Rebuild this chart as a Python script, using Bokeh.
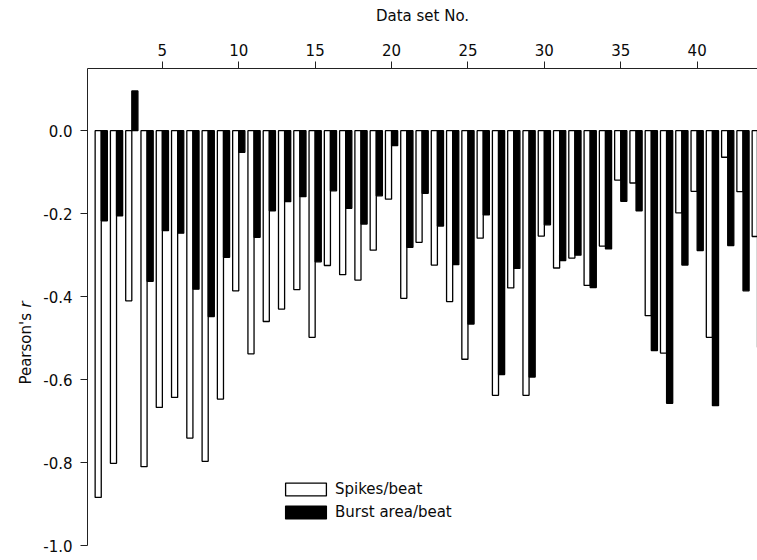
import math

from bokeh.core.properties import value
from bokeh.embed import file_html
from bokeh.layouts import row
from bokeh.models import (ColumnDataSource, FixedTicker, Legend, LegendItem,
                          PrintfTickFormatter, Range1d)
from bokeh.plotting import figure
from bokeh.resources import INLINE

# Data set numbers and Pearson's r for each measure
data_set = list(range(1, 45))
spikes_per_beat = [
    -0.884, -0.802, -0.410, -0.810, -0.667, -0.643, -0.741, -0.797, -0.647, -0.386,
    -0.538, -0.460, -0.430, -0.383, -0.498, -0.325, -0.347, -0.360, -0.288, -0.165,
    -0.404, -0.269, -0.324, -0.412, -0.551, -0.259, -0.638, -0.379, -0.638, -0.254,
    -0.331, -0.307, -0.373, -0.278, -0.119, -0.126, -0.446, -0.536, -0.198, -0.146,
    -0.498, -0.064, -0.147, -0.255,
]
burst_area_per_beat = [
    -0.217, -0.205, 0.096, -0.363, -0.241, -0.247, -0.382, -0.448, -0.305, -0.052,
    -0.257, -0.193, -0.171, -0.159, -0.316, -0.145, -0.187, -0.225, -0.157, -0.036,
    -0.281, -0.151, -0.230, -0.323, -0.466, -0.203, -0.588, -0.332, -0.594, -0.227,
    -0.313, -0.300, -0.378, -0.285, -0.170, -0.193, -0.530, -0.657, -0.324, -0.289,
    -0.663, -0.277, -0.386, -0.522,
]
x_ticks = [5, 10, 15, 20, 25, 30, 35, 40]
y_ticks = [-1.0, -0.8, -0.6, -0.4, -0.2, 0.0]

FONT = "DejaVu Sans"
TEXT_COLOR = "#0a0a0a"
BAR_W = 0.4
TOP, BOTTOM = 68, 15

y_range = Range1d(-1.0, 0.15)

source = ColumnDataSource(dict(
    spikes_x=[d - BAR_W / 2 for d in data_set],
    burst_x=[d + BAR_W / 2 for d in data_set],
    spikes=spikes_per_beat,
    burst=burst_area_per_beat,
))

# narrow strip holding the rotated y-axis title
title_fig = figure(
    width=40, height=560, output_backend="svg", toolbar_location=None,
    x_axis_location=None, y_axis_location=None,
    x_range=Range1d(0, 40), y_range=y_range,
    min_border_left=0, min_border_right=0,
    min_border_top=TOP, min_border_bottom=BOTTOM,
)
title_fig.outline_line_color = None
title_fig.xgrid.visible = False
title_fig.ygrid.visible = False
title_fig.text(x=[25], y=[-0.612], text=["Pearson's"], angle=math.pi / 2,
               text_font=value(FONT), text_font_size="15px", text_color=TEXT_COLOR,
               text_align="left", text_baseline="alphabetic")
title_fig.text(x=[25], y=[-0.426], text=["r"], angle=math.pi / 2,
               text_font=value(FONT), text_font_size="15px", text_font_style="italic",
               text_color=TEXT_COLOR, text_align="left", text_baseline="alphabetic")

p = figure(
    width=717, height=560,
    output_backend="svg", toolbar_location=None,
    x_axis_location="above",
    x_range=Range1d(0.1, 43.95), y_range=y_range,
    min_border_left=46, min_border_right=0,
    min_border_top=TOP, min_border_bottom=BOTTOM,
)
p.outline_line_color = None
p.xgrid.visible = False
p.ygrid.visible = False

r_spikes = p.vbar(x="spikes_x", width=BAR_W, bottom=0, top="spikes", source=source,
                  fill_color="white", line_color="black", line_width=1.3)
r_burst = p.vbar(x="burst_x", width=BAR_W, bottom=0, top="burst", source=source,
                 fill_color="black", line_color="black", line_width=1.3)

# top axis: data set number
xa = p.xaxis[0]
xa.ticker = FixedTicker(ticks=x_ticks)
xa.minor_tick_line_color = None
xa.major_tick_out = 7
xa.major_tick_in = 0
xa.major_label_standoff = 6
xa.axis_label = "Data set No."
xa.axis_label_standoff = 16
xa.axis_label_text_font = FONT
xa.axis_label_text_font_size = "15px"
xa.axis_label_text_font_style = "normal"
xa.axis_label_text_color = TEXT_COLOR
xa.major_label_text_font = FONT
xa.major_label_text_font_size = "15px"
xa.major_label_text_color = TEXT_COLOR
xa.axis_line_color = "#222222"
xa.major_tick_line_color = "#222222"

# left axis: Pearson's r
ya = p.yaxis[0]
ya.ticker = FixedTicker(ticks=y_ticks)
ya.formatter = PrintfTickFormatter(format="%.1f")
ya.minor_tick_line_color = None
ya.major_tick_out = 7
ya.major_tick_in = 0
ya.major_label_standoff = 8
ya.major_label_text_font = FONT
ya.major_label_text_font_size = "15px"
ya.major_label_text_color = TEXT_COLOR
ya.axis_line_color = "#222222"
ya.major_tick_line_color = "#222222"

legend = Legend(
    items=[LegendItem(label="Spikes/beat", renderers=[r_spikes]),
           LegendItem(label="Burst area/beat", renderers=[r_burst])],
    location=(193, 24),
    glyph_width=51, glyph_height=16, label_height=16,
    label_standoff=4, spacing=5, padding=0, margin=0,
    label_text_font=FONT, label_text_font_size="15px", label_text_color=TEXT_COLOR,
    border_line_color=None, background_fill_alpha=0,
)
p.add_layout(legend)

layout = row(title_fig, p, spacing=0)
open("out.html", "w").write(file_html(layout, INLINE))
